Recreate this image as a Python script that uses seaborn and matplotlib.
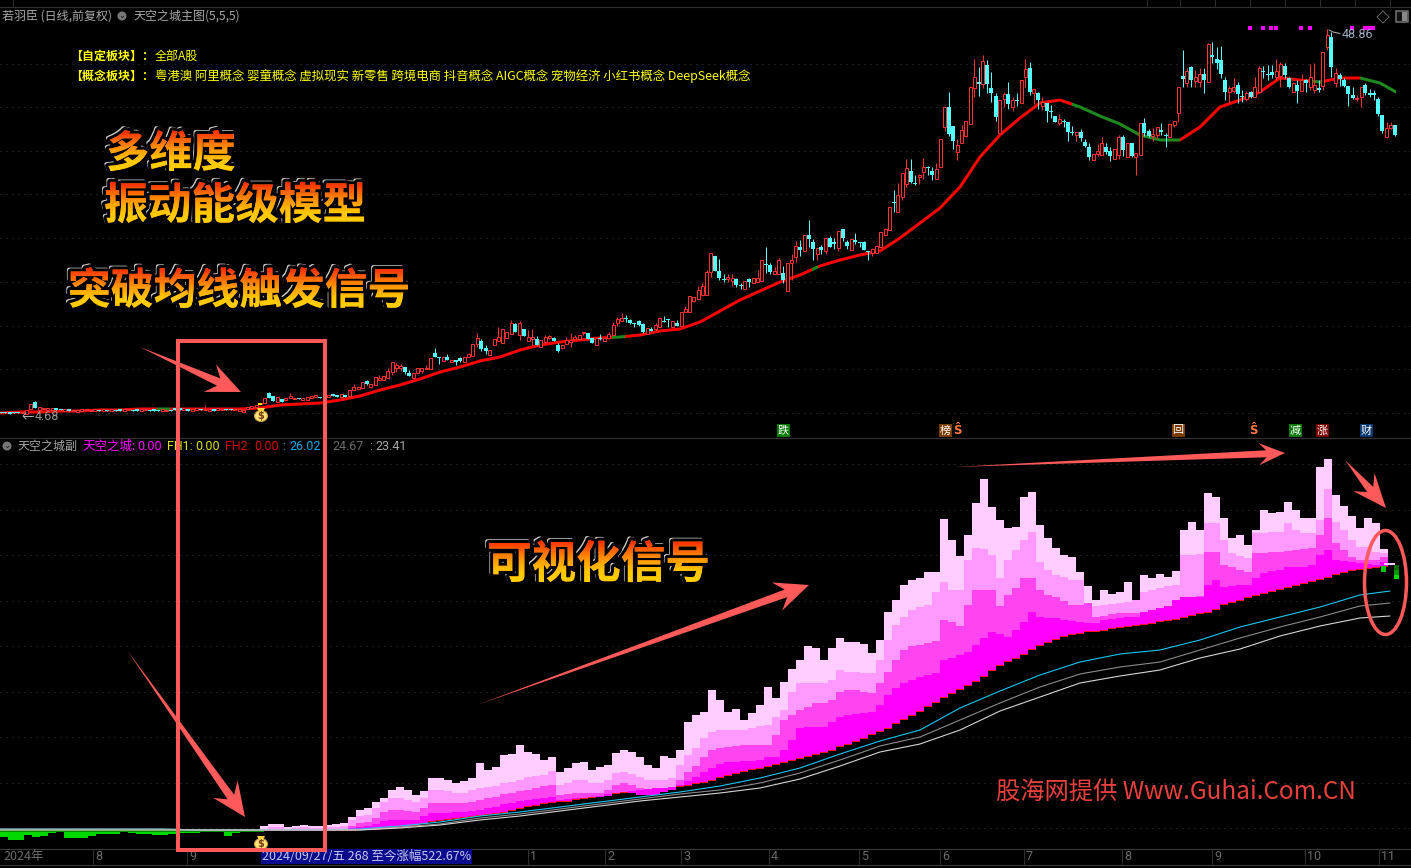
import numpy as np
import pandas as pd
import seaborn as sns
import matplotlib
matplotlib.use("Agg")
import matplotlib.pyplot as plt
from matplotlib.patches import Rectangle, Ellipse, Polygon, PathPatch, Circle
from matplotlib.textpath import TextPath
from matplotlib.font_manager import FontProperties
from matplotlib.transforms import Affine2D, Bbox, TransformedBbox
from matplotlib.colors import LinearSegmentedColormap
import matplotlib.patheffects as pe

# ---- all levels are chart readings on the (unlabelled) vertical scale; smaller = higher ----
OPEN = [412,412,412,412,412,413,414,409,402,410, 409,410,410,408,409,411,409,411,412,411,
 410,411,411,410,411,410,411,410,409,411, 410,410,409,411,410,410,409,410,411,411,
 410,408,408,410,409,411,410,409,410,411, 409,410,410,409,409,410,411,412,
 409,408,407,404,403,393,396,402,399,400, 398,399,398,400,400,398,397,397,397,397,
 394,395,397,395,396,390,389,388,381,387, 385,380,380,378,372,368,368,367,373,378,
 373,371,369,369,353,357,361,357,362,360, 358,362,357,356,344,341,348,355,345,341,
 343,338,334,324,335,329,341,339,339,347, 342,338,338,345,348,344,342,339,339,333,
 333,338,345,338,341,338,335,323,321,318, 320,323,321,324,334,329,329,327,321,319,
 327,323,326,312,312,301,299,295,295,272, 256,271,279,279,281,279,285,289,279,283,
 282,281,264,265,274,274,273,291,263,257, 247,251,235,242,254,247,251,238,242,248,
 229,242,250,240,242,242,251,253,253,247, 235,230,202,212,197,184,171,183,177,172,
 167,171,179,167,127,107,126,152,143,136, 124,88,82,84,65,88,96,133,99,94,
 107,100,103,77,68,93,93,106,103,111, 116,123,121,122,132,135,132,142,147,160,
 154,155,147,151,159,155,137,157,143,157, 155,123,131,136,135,130,135,137,125,113,
 76,83,67,81,82,74,82,55,59,60, 80,92,91,85,96,99,92,97,92,71,
 74,72,77,76,66,78,92,85,91,80, 87,90,88,86,47,37,83,75,80,86,
 95,99,97,85,93,93,99,115,137,128, 125]
CLOSE = [413,413,414,413,413,412,410,404,408,407, 408,408,408,410,410,409,411,410,410,409,
 409,410,409,411,409,411,409,411,411,409, 409,411,411,409,409,411,411,411,409,410,
 411,410,410,408,411,409,408,410,409,409, 411,408,409,410,410,409,409,410,
 407,406,405,403,398,398,401,397,402,398, 396,398,399,398,397,396,395,398,397,395,
 396,397,394,397,390,387,387,382,384,384, 377,378,376,371,362,365,366,372,376,373,
 368,368,368,358,357,358,357,360,360,362, 361,357,354,344,338,349,351,350,339,337,
 329,332,323,332,323,336,337,337,345,340, 337,336,341,351,345,340,340,337,335,332,
 339,343,338,339,338,334,325,319,318,319, 323,324,325,332,328,331,325,318,322,320,
 321,326,312,309,296,297,290,286,272,253, 271,278,280,277,278,285,286,281,282,278,
 278,260,265,272,271,260,280,263,260,246, 250,235,239,249,248,250,238,247,244,231,
 238,246,239,242,243,250,252,249,246,232, 229,207,203,195,173,168,182,184,175,167,
 168,175,169,139,107,134,141,145,130,121, 87,77,84,61,84,93,117,100,94,104,
 100,101,80,69,92,89,100,102,111,112, 122,119,122,132,133,132,138,146,157,154,
 151,143,152,156,149,137,150,143,156,153, 123,133,136,134,127,132,136,124,121,87,
 79,71,80,77,74,80,44,57,63,74, 92,88,87,94,97,93,97,87,68,72,
 75,75,71,64,75,87,83,91,80,83, 77,85,90,52,35,67,73,79,86,94,
 98,98,87,93,95,95,114,131,128,125, 135]
HIGH = [412,412,412,412,412,412,410,404,401,407, 408,408,408,408,409,409,409,410,410,409,
 409,410,409,410,409,410,409,410,409,409, 409,410,409,409,409,410,409,410,409,410,
 410,408,408,408,409,409,408,409,405,409, 409,408,409,409,409,409,409,410,
 407,406,405,403,398,392,396,397,399,398, 393,398,398,398,397,396,395,397,397,395,
 394,395,394,395,390,384,386,382,380,384, 377,375,376,368,362,363,364,367,370,373,
 368,368,365,358,348,357,356,354,360,360, 357,357,353,344,333,339,345,350,339,327,
 329,332,320,323,321,329,330,329,336,340, 335,335,337,343,345,337,333,335,335,332,
 333,338,338,334,337,332,322,317,313,315, 319,323,320,323,328,327,323,317,316,319,
 321,320,312,306,296,297,286,283,270,253, 256,259,274,274,274,278,283,281,278,278,
 270,260,247,263,267,258,266,263,254,241, 240,235,220,239,248,245,238,236,238,231,
 229,240,239,233,242,241,251,248,245,232, 228,207,190,183,173,159,159,175,174,158,
 166,167,163,139,107,92,126,139,125,121, 86,59,67,55,60,72,93,100,92,82,
 97,93,80,59,62,89,92,97,103,105, 116,114,119,122,126,132,129,139,143,154,
 144,137,143,147,149,135,135,143,143,153, 123,118,129,128,127,123,133,124,121,87,
 50,68,66,70,68,68,43,42,47,46, 77,86,78,82,90,91,91,77,66,66,
 65,65,59,62,63,77,83,80,74,79, 64,63,80,52,29,32,68,73,78,86,
 87,95,87,83,89,90,97,115,122,122, 125]
LOW = [413,413,414,413,413,413,414,409,408,410, 409,410,410,410,410,411,411,411,412,411,
 410,411,411,411,411,411,411,411,411,411, 410,411,411,411,410,411,411,411,411,411,
 411,410,410,410,411,411,410,410,410,411, 411,410,410,410,410,410,411,412,
 409,408,407,404,403,398,401,402,402,400, 398,399,399,400,400,398,397,398,397,397,
 396,397,397,397,396,390,389,388,385,388, 385,380,380,378,375,372,371,374,376,378,
 373,373,369,369,357,364,361,360,362,365, 362,362,357,356,347,351,354,355,345,341,
 343,338,334,332,340,336,341,345,345,347, 344,339,341,352,349,344,347,339,339,335,
 339,343,345,340,341,339,335,326,321,322, 324,327,326,333,334,331,331,327,322,327,
 327,326,326,312,312,302,299,295,295,277, 271,280,282,282,286,287,289,289,287,283,
 282,281,273,274,274,274,283,291,280,262, 256,251,247,260,260,254,254,247,249,251,
 241,249,250,244,247,250,260,256,253,247, 235,230,212,212,200,187,183,185,184,179,
 175,180,179,167,131,136,149,160,143,137, 124,97,96,88,93,102,121,133,107,109,
 111,106,103,87,95,104,109,110,122,118, 122,125,127,141,135,141,141,147,160,160,
 156,155,154,161,159,159,156,157,157,175, 155,136,137,141,139,135,147,137,127,122,
 87,87,87,87,87,93,82,63,69,78, 100,103,93,103,102,101,98,97,93,78,
 80,78,80,87,78,88,92,103,91,92, 90,93,92,90,50,77,87,86,87,106,
 99,101,107,95,97,100,116,133,138,129, 136]

TREND_X = list(range(0, 1400, 20)) + [1396]
TREND_LEVEL = [413,412,412,411,411,410,410,409,409,409,409,409,409,408,405,404,403,400,396,390,
 385,379,372,367,361,357,350,345,342,340,338,337,335,331,329,322,311,300,291,282,
 275,266,260,255,251,238,223,208,187,157,135,118,103,100,107,116,124,135,140,140,
 127,107,100,92,78,80,82,78,78,83,92]
TREND_WEAK_SPANS = [(157,170),(612,625),(812,818),(1072,1180),(1310,1322),(1360,1396)]

BAND_TOP = [826,824,824,827,826,825,826,826,825,824,
 823,817,810,808,802,798,790,787,790,795,
 791,778,778,780,783,781,778,763,770,767,
 755,754,745,752,754,760,757,772,768,763,
 762,770,767,765,753,750,752,757,765,768,
 756,758,750,722,715,712,690,700,712,709,
 720,713,705,687,698,682,669,660,646,648,
 660,648,638,642,642,644,653,640,612,600,
 585,580,578,572,572,519,540,556,535,503,
 479,507,520,528,527,497,492,525,538,548,
 555,557,572,586,600,590,594,592,582,600,
 575,578,574,577,571,530,522,530,493,497,
 518,538,535,545,530,510,513,512,502,510,
 518,518,467,459,495,506,516,528,518,523, 549]
BAND_A = [829,827,827,829,828,827,828,828,827,827,
 826,820,816,815,808,802,798,798,800,802,
 798,790,790,791,793,793,790,788,787,786,
 783,782,780,777,776,775,771,785,783,780,
 780,783,783,780,773,772,774,777,780,780,
 780,778,765,755,748,738,732,730,730,730,
 730,728,726,725,717,710,692,683,683,683,
 683,680,670,672,672,673,673,660,640,625,
 617,610,607,605,592,582,590,590,560,548,
 549,555,578,560,550,540,532,562,570,575,
 577,580,580,610,606,605,604,603,602,600,
 592,590,588,586,585,555,555,554,523,523,
 540,553,556,558,533,533,532,532,523,530,
 533,533,520,489,522,530,540,547,547,552, 553]
BAND_B = [830,830,830,830,830,830,830,830,830,830,
 829,826,823,822,818,812,810,810,811,812,
 808,803,803,803,803,803,802,800,798,797,
 794,793,791,790,788,786,785,795,794,793,
 793,793,793,790,785,783,785,788,790,790,
 790,788,780,772,766,757,750,748,747,746,
 745,745,745,745,735,720,715,710,707,703,
 703,700,692,690,690,692,693,683,672,660,
 650,646,645,643,641,620,622,626,605,590,
 590,590,606,595,588,578,578,590,595,597,
 601,605,605,603,617,616,614,613,613,613,
 612,611,610,609,608,600,598,596,552,552,
 565,567,570,572,553,553,552,552,551,550,
 549,548,535,518,543,550,557,560,560,560, 557]
BAND_C = [830,830,830,830,830,830,830,830,830,830,
 830,828,827,826,824,821,820,820,820,820,
 816,813,813,813,812,812,811,810,808,807,
 804,803,801,800,799,798,797,800,799,798,
 798,797,797,796,793,792,793,795,795,795,
 792,790,785,781,777,772,768,764,762,762,
 761,761,760,757,757,750,740,728,727,727,
 727,722,717,715,714,713,712,705,695,688,
 683,680,677,675,673,660,658,655,652,645,
 638,632,634,637,630,622,612,617,618,618,
 620,621,622,623,623,620,619,618,617,617,
 612,610,608,606,600,597,597,597,585,580,
 587,586,585,585,578,573,571,570,567,567,
 567,565,555,550,560,561,562,563,564,565, 562]
BAND_BASE = [830,830,830,830,830,830,830,830,830,830,
 830,830,829,829,829,828,828,827,826,825,
 823,821,820,819,818,817,816,815,814,813,
 812,810,808,806,805,803,802,801,801,799,
 798,797,796,794,793,792,791,790,789,788,
 788,787,786,785,783,782,780,777,775,773,
 771,769,768,766,764,762,760,758,756,754,
 752,750,746,744,741,738,734,731,728,723,
 719,715,711,706,702,697,693,689,685,681,
 676,670,665,661,658,654,649,645,642,639,
 636,634,633,631,631,630,628,627,626,625,
 624,623,621,620,619,617,615,613,612,609,
 604,602,600,597,595,593,591,589,587,585,
 583,581,579,577,574,572,570,569,568,567, 566]
WEAK_X = list(range(0, 264, 8))
WEAK_LEVEL = [837,840,840,835,837,836,833,832,838,838,838,836,834,834,834,832,833,834,834,835,
 835,834,833,833,833,832,831,832,836,833,832,832,831]

LINE_X = list(range(0, 1400, 40)) + [1390]
LINE_CYAN = [829,829,829,829,829,830,830,830,830,829,826,822,816,812,807,802,797,792,786,778,
 768,754,741,730,708,691,675,662,654,650,640,627,617,607,595,591]
LINE_GRAY = [829,829,829,829,829,830,830,830,830,830,827,824,818,814,809,804,799,794,790,783,
 773,760,746,737,720,703,687,674,667,662,650,638,627,617,606,603]
LINE_WHITE = [830,830,830,830,830,830,830,830,830,830,828,825,820,816,811,806,801,797,793,788,
 779,766,752,744,730,711,697,683,676,670,658,649,636,626,618,616]

MONTH_LABELS = ["2024年","8","9","1","2","3","4","5","6","7","8","9","10","11"]
MONTH_X = [3,93,187,528,605,681,769,859,940,1024,1122,1212,1305,1379]
SIGNAL_DOTS_X = [1250,1263,1271,1276,1301,1310,1352,1365,1369,1373]
EVENTS = [("跌",783,"#0b7a0b"),("榜",945,"#7a3c00"),("回",1178,"#7a3c00"),("减",1295,"#0b7a0b"),("涨",1322,"#7a0000"),("财",1366,"#0b3a70")]
CONCEPTS = "粤港澳 阿里概念 婴童概念 虚拟现实 新零售 跨境电商 抖音概念 AIGC概念 宠物经济 小红书概念 DeepSeek概念"

sns.set_theme(style="dark", rc={"figure.facecolor": "black", "axes.facecolor": "black", "savefig.facecolor": "black"})
plt.rcParams["font.family"] = ["Noto Sans CJK SC", "DejaVu Sans"]
CJK = "Noto Sans CJK SC"

fig = plt.figure(figsize=(14.11, 8.68), dpi=100)
ax = fig.add_axes([0, 0, 1, 1])
ax.set_axis_off()

def lw(px):
    return px * 0.72

def label(x, y, s, color, px=12, **kw):
    kw.setdefault("va", "center")
    kw.setdefault("ha", "left")
    return ax.text(x, y, s, color=color, fontsize=px * 0.72, zorder=12, **kw)

# grid + frames
for y in [63.5,107,150.5,194,238,282,326,369,413, 464,509.5,555,600.5,646,691.5,737,782.5,828]:
    ax.plot([0,1411],[y,y],color="#3c3c3c",lw=lw(1),ls=(0,(1,5)),zorder=1)
for y,c in [(6.5,"#303030"),(437.5,"#303030"),(848.5,"#3a3a3a"),(864.5,"#3a3a3a")]:
    ax.plot([0,1411],[y,y],color=c,lw=lw(1.2),zorder=1)
for x in [13,1147,1180,1215,1250,1285,1320,1355,1390]:
    ax.plot([x,x],[0,6],color="#303030",lw=lw(1),zorder=1)

# candles
x_day = 1 + 4.25 * np.arange(len(OPEN))
o, c, h, l = map(np.array, (OPEN, CLOSE, HIGH, LOW))
up = c <= o
RED, CYAN = "#ff3030", "#54ffff"
ax.vlines(x_day[up], h[up], l[up], color=RED, lw=lw(1), zorder=3)
ax.vlines(x_day[~up], h[~up], l[~up], color=CYAN, lw=lw(1), zorder=3)

# moving average, drawn first so candles sit over it
ma = pd.DataFrame({"x": TREND_X, "y": TREND_LEVEL})
edges = [0]
for a, b in TREND_WEAK_SPANS:
    edges += [a, b]
edges.append(1396)
for i in range(len(edges) - 1):
    weak = i % 2 == 1
    sns.lineplot(data=ma, x="x", y="y", ax=ax, estimator=None, sort=False, legend=False,
                 color="#1e8a1e" if weak else "#ff0000", lw=lw(3), zorder=2)
    ln = ax.lines[-1]
    ln.set_clip_box(TransformedBbox(Bbox([[edges[i], 0], [edges[i + 1], 437]]), ax.transData))
ax.set_xlabel(""); ax.set_ylabel("")

body_h = np.maximum(np.abs(c - o), 1)
ax.bar(x_day[up], body_h[up], bottom=np.minimum(o, c)[up], width=3, facecolor="black", edgecolor=RED, lw=lw(1), zorder=4)
ax.bar(x_day[~up], body_h[~up], bottom=np.minimum(o, c)[~up], width=4, facecolor=CYAN, edgecolor="none", lw=0, zorder=4)
ax.bar([x_day[61]], [2], bottom=[403], width=4, color="#ffe000", lw=0, zorder=5)

# lower-panel bands
bx = 260 + 8 * np.arange(len(BAND_TOP) + 1)
def band(top, bottom, color):
    ax.fill_between(bx, list(top) + [top[-1]], list(bottom) + [bottom[-1]], step="post", color=color, lw=0, zorder=3)
base_edge = [v + 1 for v in BAND_BASE]
band(BAND_BASE, base_edge, "#ff1010")
band(BAND_TOP, BAND_BASE, "#ffccff")
band(BAND_A, BAND_BASE, "#ff99ff")
band(BAND_B, BAND_BASE, "#ff44f0")
band(BAND_C, BAND_BASE, "#ff00ff")
wx = WEAK_X + [264]
ax.fill_between(wx, WEAK_LEVEL + [WEAK_LEVEL[-1]], [830] * len(wx), step="post", color="#00d800", lw=0, zorder=3)
ax.fill_between(wx, [831.5] * len(wx), [830] * len(wx), step="post", color="#008a00", lw=0, zorder=3)
for x0, x1, y0, y1, col in [(1381,1386,566,572,"#00c800"),(1394,1399,565,570,"#006a00"),(1394,1399,570,575,"#009a00"),
                            (1394,1399,575,579,"#00e000"),(1384,1395,563,565,"#ffccff")]:
    ax.add_patch(Rectangle((x0, y0), x1 - x0, y1 - y0, fc=col, ec="none", zorder=3))

lines = pd.DataFrame({"x": LINE_X, "cyan": LINE_CYAN, "gray": LINE_GRAY, "white": LINE_WHITE})
for name, col in [("cyan", "#19c8f0"), ("gray", "#8c8c8c"), ("white", "#d8d8d8")]:
    sns.lineplot(data=lines, x="x", y=name, ax=ax, color=col, lw=lw(1.1), estimator=None, legend=False, zorder=5)
ax.set_xlabel(""); ax.set_ylabel("")

# signal dots + events
ax.scatter(SIGNAL_DOTS_X, [27.5] * len(SIGNAL_DOTS_X), marker="s", s=5.5, color="#ff00ff", lw=0, zorder=6)
for s, x, col in EVENTS:
    ax.add_patch(Rectangle((x - 6.5, 424), 13, 13, fc=col, ec="none", zorder=6))
    ax.text(x, 430.5, s, color="white", fontsize=8, ha="center", va="center", zorder=7)
for x in [957, 1253]:
    ax.text(x, 431, "Ŝ", color="#ff7a3c", fontsize=8.5, ha="center", va="center", family="DejaVu Sans", weight="bold", zorder=7)

# headers
label(2, 16, "若羽臣 (日线,前复权)", "#a8a8a8")
label(133, 16, "天空之城主图(5,5,5)", "#a8a8a8")
for x, y in [(122, 16), (7, 446)]:
    ax.add_patch(Circle((x, y), 4.5, fc="#777777", ec="none", zorder=10))
    ax.text(x, y, "⌄", color="#111111", fontsize=6, ha="center", va="center", family="DejaVu Sans", zorder=11)
label(70, 56, "【自定板块】：", "#ffff00", weight="bold")
label(155, 56, "全部A股", "#ffff00")
label(70, 76, "【概念板块】：", "#ffff00", weight="bold")
label(155, 76, CONCEPTS, "#ffff00", px=12.4)
label(17, 446, "天空之城副", "#a8a8a8")
label(82, 446, "天空之城:", "#ff00ff", px=12.5)
label(137, 446, "0.00", "#ff00ff", family="Roboto", px=12.5)
label(167, 446, "FH1:", "#e0e000", family="Roboto", px=12.5)
label(195, 446, "0.00", "#e0e000", family="Roboto", px=12.5)
label(225, 446, "FH2:", "#d00000", family="Roboto", px=12.5)
label(254, 446, "0.00", "#d00000", family="Roboto", px=12.5)
label(282, 446, ":", "#10a8e8", family="Roboto", px=12.5)
label(289, 446, "26.02", "#10a8e8", family="Roboto", px=12.5)
label(332, 446, "24.67", "#6a6a6a", family="Roboto", px=12.5)
label(369, 446, ":", "#a8a8a8", family="Roboto", px=12.5)
label(375, 446, "23.41", "#a8a8a8", family="Roboto", px=12.5)
label(1342, 34, "48.86", "#9db0c4", family="Roboto", px=12.5)
ax.plot([1329, 1333, 1340], [30, 32, 33.5], color="#b0b0b0", lw=lw(1), zorder=7)
label(35, 416, "4.68", "#9a9a9a", family="Roboto", px=12.5)
ax.plot([23, 33], [416, 416], color="#b0b0b0", lw=lw(1), zorder=7)
ax.plot([26, 23, 26], [413, 416, 419], color="#b0b0b0", lw=lw(1), zorder=7)

# top-right icons
ax.add_patch(Polygon([(1383, 11), (1389, 17), (1383, 23), (1377, 17)], fc="none", ec="#666666", lw=lw(1), zorder=7))
ax.add_patch(Rectangle((1396, 11), 12, 11, fc="#111111", ec="#777777", lw=lw(1.5), zorder=7))
ax.add_patch(Rectangle((1402, 12), 5, 9, fc="#888888", ec="none", zorder=8))

# money bags
for cy in (415, 843):
    ax.add_patch(Ellipse((261, cy + 1), 13, 11, fc="#ffe27a", ec="#c89a30", lw=lw(1), zorder=9))
    ax.add_patch(Polygon([(257, cy - 7), (265, cy - 7), (263, cy - 3), (259, cy - 3)], fc="#ffd040", ec="none", zorder=9))
    ax.text(261, cy + 1, "$", color="#7a3a10", fontsize=7, weight="bold", ha="center", va="center", family="DejaVu Sans", zorder=10)

# axis strip
for s, x in zip(MONTH_LABELS, MONTH_X):
    if s != "2024年":
        ax.plot([x, x], [849, 864], color="#2e2e2e", lw=lw(1), zorder=2)
    label(x + (0 if s == "2024年" else 2), 856.5, s, "#6c6c6c", px=12.5, family="Roboto" if s != "2024年" else CJK)
ax.add_patch(Rectangle((261, 849), 211, 15, fc="#0a0a8c", ec="none", zorder=8))
ax.text(261.5, 856.5, "2024/09/27/五 268 至今涨幅522.67%", color="#c8c8f0", fontsize=9, va="center", ha="left", zorder=13)

# annotations
CORAL = "#ff5a5a"
ax.add_patch(Rectangle((177.5, 341), 147.5, 509, fc="none", ec=CORAL, lw=lw(4), zorder=15))
ax.add_patch(Ellipse((1385.5, 582.5), 42, 104, fc="none", ec=CORAL, lw=lw(3.5), zorder=15))

def arrow(p0, p1, head=34, barb=15, neck=4):
    p0, p1 = np.array(p0, float), np.array(p1, float)
    d = (p1 - p0) / np.linalg.norm(p1 - p0)
    n = np.array([-d[1], d[0]])
    b = p1 - d * head
    nk = p1 - d * (head * 0.72)
    pts = [p0, nk + n * neck, b + n * barb, p1, b - n * barb, nk - n * neck]
    ax.add_patch(Polygon(pts, fc=CORAL, ec="none", zorder=15))
arrow((140, 347), (241, 392))
arrow((127, 650), (245, 817))
arrow((477, 705), (809, 585))
arrow((954, 467), (1285, 453), head=26, barb=11, neck=3.5)
arrow((1345, 460), (1386, 508), head=34, barb=14, neck=4)

grad = LinearSegmentedColormap.from_list("g", ["#ff1500", "#ff5a00", "#ff9a00", "#ffc800", "#ffd000"])
def big(s, x, base, px):
    fp = FontProperties(family=CJK, weight="bold", size=px * 0.72)
    ax.text(x, base, s, fontproperties=fp, color="#ff8800", ha="left", va="baseline", zorder=16,
            path_effects=[pe.Stroke(offset=(-1.3, 1.3), linewidth=3.0, foreground="#d0d0d0"),
                          pe.Stroke(linewidth=4.6, foreground="black"), pe.Normal()])
    tp = TextPath((0, 0), s, size=px, prop=FontProperties(family=CJK, weight="bold"))
    tr = Affine2D().scale(1, -1).translate(x, base) + ax.transData
    im = ax.imshow(np.linspace(0, 1, 64)[:, None], extent=(x, x + px * len(s) + 4, base + px * 0.12, base - px * 0.9),
                   cmap=grad, aspect="auto", zorder=17, interpolation="bilinear")
    im.set_clip_path(PathPatch(tp, transform=tr))

big("多维度", 106, 167, 43.3)
big("振动能级模型", 104, 219, 43.7)
big("突破均线触发信号", 68, 304, 42.8)
big("可视化信号", 487, 578, 44.6)

ax.text(996, 793, "股海网提供 Www.Guhai.Com.CN", color="#e8403c", fontsize=17.5, ha="left", va="center",
        family=["Noto Sans CJK SC", "DejaVu Sans"], zorder=14)

ax.set_xlim(0, 1411)
ax.set_ylim(868, 0)
fig.savefig("out.png", dpi=100, facecolor="black")
